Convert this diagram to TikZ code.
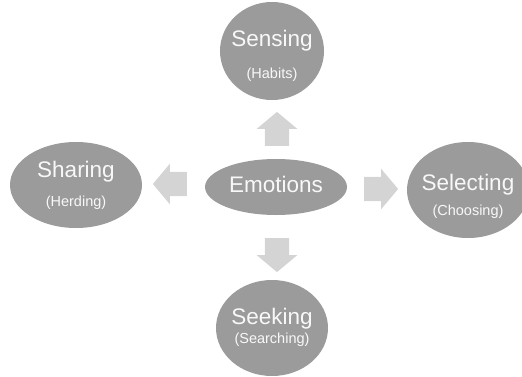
\documentclass[tikz,border=0pt]{standalone}
\usepackage{fontspec}
\setmainfont{Liberation Sans}
\usetikzlibrary{shapes.geometric, shapes.arrows}
\definecolor{blobgray}{RGB}{155,155,155}
\definecolor{arrowgray}{RGB}{212,212,212}
\definecolor{labelwhite}{RGB}{248,248,248}
\tikzstyle{blob}=[shape=ellipse,inner sep=0,fill=blobgray,draw=none]
\tikzstyle{mainlabel}=[inner sep=0,text=labelwhite,font=\fontsize{22.5}{26}\selectfont]
\tikzstyle{sublabel}=[inner sep=0,text=labelwhite,font=\fontsize{14.5}{17}\selectfont]
\tikzstyle{blockarrow}=[single arrow,fill=arrowgray,draw=none,inner xsep=0,inner ysep=12pt,minimum height=34pt,single arrow head extend=8pt,single arrow tip angle=100]
\begin{document}
\begin{tikzpicture}[x=1pt,y=1pt]
\useasboundingbox (0,0) rectangle (522,376);
\clip (0,0) rectangle (522,376);

% the five bubbles
\node[blob,minimum width=104pt,minimum height=98pt] (sensing) at (272,325) {};
\node[blob,minimum width=132pt,minimum height=86pt] (sharing) at (76,191) {};
\node[blob,minimum width=142pt,minimum height=56pt] (emotions) at (276,189) {};
\node[blob,minimum width=122pt,minimum height=96pt] (selecting) at (468,186) {};
\node[blob,minimum width=112pt,minimum height=96pt] (seeking) at (272,48) {};

\node[mainlabel] (sensingtxt) at ([yshift=10pt]sensing.center) {Sensing};
\node[sublabel] (sensingsub) at ([yshift=-24pt]sensing.center) {(Habits)};
\node[mainlabel] (sharingtxt) at ([yshift=13pt]sharing.center) {Sharing};
\node[sublabel] (sharingsub) at ([yshift=-18pt]sharing.center) {(Herding)};
\node[mainlabel] (emotionstxt) at ([yshift=3pt]emotions.center) {Emotions};
\node[mainlabel] (selectingtxt) at ([yshift=5pt]selecting.center) {Selecting};
\node[sublabel] (selectingsub) at ([yshift=-22pt]selecting.center) {(Choosing)};
\node[mainlabel] (seekingtxt) at ([yshift=9pt]seeking.center) {Seeking};
\node[sublabel] (seekingsub) at ([yshift=-12pt]seeking.center) {(Searching)};

% block arrows
\node[blockarrow,rotate=90] (toup) at (277,242) {};
\node[blockarrow,rotate=180] (toleft) at (175,192) {};
\node[blockarrow] (toright) at (376,187) {};
\node[blockarrow,rotate=270] (todown) at (277,126) {};
\end{tikzpicture}
\end{document}
